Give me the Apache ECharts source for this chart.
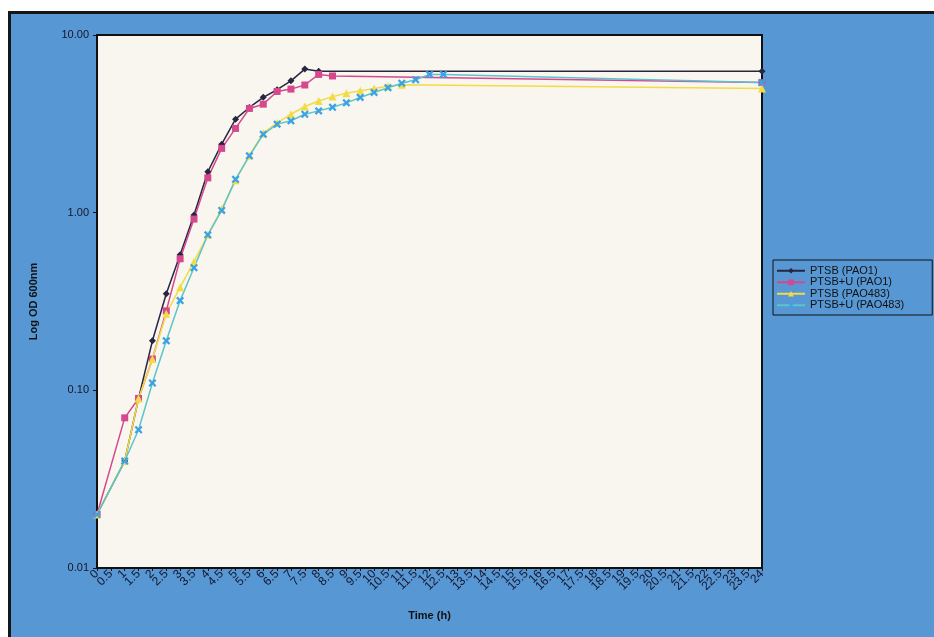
<!DOCTYPE html>
<html>
<head>
<meta charset="utf-8">
<script src="https://cdn.jsdelivr.net/npm/echarts@6/dist/echarts.min.js"></script>
<style>
  html, body { margin: 0; padding: 0; background: #ffffff; }
  #frame {
    position: absolute; left: 8px; top: 11px; width: 940px; height: 640px;
    background: #5797d4; border-top: 3px solid #161616; border-left: 3px solid #161616;
  }
  #chart { position: absolute; left: 0; top: 0; width: 934px; height: 637px; }
</style>
</head>
<body>
<div id="frame"></div>
<div id="chart"></div>
<script>
// Sampling times (h) shown on the category axis
const timeLabels = ['0','0.5','1','1.5','2','2.5','3','3.5','4','4.5','5','5.5','6','6.5','7','7.5','8','8.5','9','9.5',
  '10','10.5','11','11.5','12','12.5','13','13.5','14','14.5','15','15.5','16','16.5','17','17.5','18','18.5','19','19.5',
  '20','20.5','21','21.5','22','22.5','23','23.5','24'];

// PTSB (PAO1)
const ptsbPAO1Time = ['0','1','1.5','2','2.5','3','3.5','4','4.5','5','5.5','6','6.5','7','7.5','8','24'];
const ptsbPAO1 = [0.02,0.04,0.09,0.19,0.35,0.58,0.97,1.70,2.43,3.36,3.91,4.46,4.92,5.52,6.43,6.25,6.25];

// PTSB+U (PAO1)
const ptsbUPAO1Time = ['0','1','1.5','2','2.5','3','3.5','4','4.5','5','5.5','6','6.5','7','7.5','8','8.5','24'];
const ptsbUPAO1 = [0.02,0.07,0.09,0.15,0.28,0.55,0.92,1.57,2.30,2.98,3.86,4.08,4.81,4.96,5.23,6.00,5.88,5.40];

// PTSB (PAO483)
const ptsbPAO483Time = ['0','1','1.5','2','2.5','3','3.5','4','4.5','5','5.5','6','6.5','7','7.5','8','8.5','9','9.5','10','10.5','11','24'];
const ptsbPAO483 = [0.02,0.04,0.09,0.15,0.27,0.38,0.53,0.75,1.05,1.52,2.10,2.80,3.20,3.58,3.96,4.25,4.50,4.70,4.85,5.00,5.15,5.25,5.00];

// PTSB+U (PAO483)
const ptsbUPAO483Time = ['0','1','1.5','2','2.5','3','3.5','4','4.5','5','5.5','6','6.5','7','7.5','8','8.5','9','9.5','10','10.5','11','11.5','12','12.5','24'];
const ptsbUPAO483 = [0.02,0.04,0.06,0.11,0.19,0.32,0.49,0.75,1.03,1.54,2.09,2.76,3.15,3.29,3.58,3.74,3.92,4.15,4.45,4.75,5.05,5.35,5.60,6.00,6.00,5.40];

const yTicks = [0.01, 0.1, 1, 10];

// "x" marker drawn as a filled outline
const crossPath = 'path://M2,0 L5,3 L8,0 L10,2 L7,5 L10,8 L8,10 L5,7 L2,10 L0,8 L3,5 L0,2 Z';

function pairs(times, vals) { return times.map((t, i) => [t, vals[i]]); }

function lineSeries(name, times, vals, lineColor, markColor, symbol, size) {
  return {
    name, type: 'line', data: pairs(times, vals),
    symbol, symbolSize: size, showAllSymbol: true,
    lineStyle: { color: lineColor, width: 1.5 },
    itemStyle: { color: markColor, borderWidth: 0 },
    emphasis: { disabled: true }, animation: false, clip: false
  };
}

const chart = echarts.init(document.getElementById('chart'), null, { renderer: 'canvas' });
chart.setOption({
  backgroundColor: 'transparent',
  animation: false,
  textStyle: { fontFamily: '"Liberation Sans", Arial, sans-serif' },
  grid: {
    left: 97, top: 35, width: 665, height: 533,
    show: true, backgroundColor: '#f8f6ef', borderColor: '#111111', borderWidth: 2
  },
  legend: {
    orient: 'vertical', left: 773, top: 260,
    itemWidth: 28, itemHeight: 7, itemGap: 0,
    padding: [5, 28, 4, 3],
    borderColor: '#111111', borderWidth: 1,
    textStyle: { fontSize: 11, color: '#111111', lineHeight: 11.5 },
    data: ['PTSB (PAO1)', 'PTSB+U (PAO1)', 'PTSB (PAO483)', 'PTSB+U (PAO483)']
  },
  xAxis: {
    type: 'category', data: timeLabels, boundaryGap: false,
    name: 'Time (h)', nameLocation: 'middle', nameGap: 42,
    nameTextStyle: { fontSize: 11, fontWeight: 'bold', color: '#111111' },
    axisLine: { lineStyle: { color: '#111111', width: 2 } },
    axisTick: { show: true, interval: 0, length: 3, lineStyle: { color: '#111111' } },
    axisLabel: { interval: 0, rotate: 45, fontSize: 12, color: '#15152a', margin: 4 },
    splitLine: { show: false }
  },
  yAxis: {
    type: 'log', logBase: 10, min: yTicks[0], max: yTicks[yTicks.length - 1],
    name: 'Log OD 600nm', nameLocation: 'middle', nameGap: 58, nameRotate: 90,
    nameTextStyle: { fontSize: 11, fontWeight: 'bold', color: '#111111' },
    axisLine: { show: true, lineStyle: { color: '#111111', width: 2 } },
    axisTick: { show: true, length: 4, lineStyle: { color: '#111111' } },
    axisLabel: { fontSize: 11, color: '#15152a', margin: 8, formatter: v => Number(v).toFixed(2) },
    splitLine: { show: false }, minorTick: { show: false }
  },
  series: [
    lineSeries('PTSB (PAO1)', ptsbPAO1Time, ptsbPAO1, '#262640', '#262640', 'diamond', 7),
    lineSeries('PTSB+U (PAO1)', ptsbUPAO1Time, ptsbUPAO1, '#d6488e', '#d6488e', 'rect', 7),
    lineSeries('PTSB (PAO483)', ptsbPAO483Time, ptsbPAO483, '#f2dc45', '#f2dc45', 'triangle', 8),
    lineSeries('PTSB+U (PAO483)', ptsbUPAO483Time, ptsbUPAO483, '#5cc4cc', '#3aa2e6', crossPath, 8)
  ]
});
</script>
</body>
</html>
